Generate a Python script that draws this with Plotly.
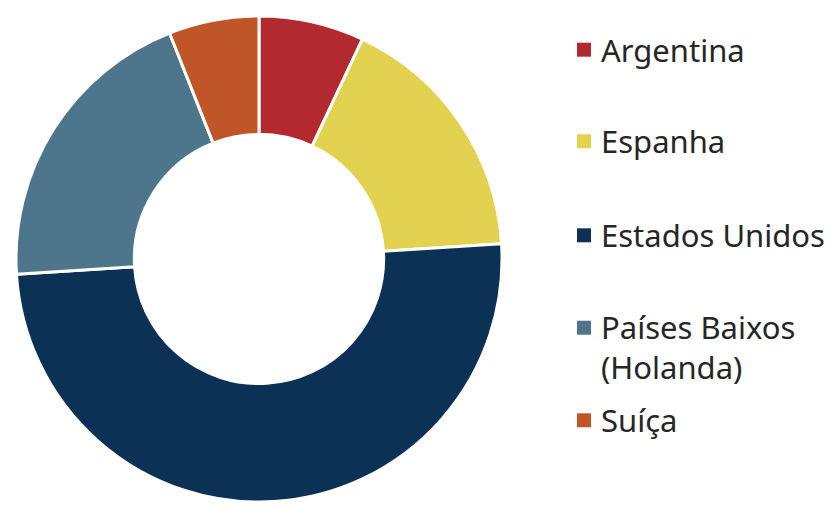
"""Donut chart: distribution by country."""

import plotly.graph_objects as go

# Data
countries = ["Argentina", "Espanha", "Estados Unidos", "Países Baixos (Holanda)", "Suíça"]
shares = [7, 17, 50, 20, 6]
colors = ["#B22A30", "#E2D250", "#0B3154", "#4D758C", "#C05627"]
legend_labels = ["Argentina", "Espanha", "Estados Unidos", "Países Baixos<br>(Holanda)", "Suíça"]

W, H = 836, 508
OFF = 8  # page body margin pushes the figure 8px right/down


def px_x(x):
    return (x - OFF) / W


def px_y(y):
    return 1 - (y - OFF) / H


fig = go.Figure()

fig.add_trace(
    go.Pie(
        labels=countries,
        values=shares,
        hole=0.513,
        sort=False,
        direction="clockwise",
        rotation=0,
        marker=dict(colors=colors, line=dict(color="white", width=3)),
        textinfo="none",
        showlegend=False,
        domain=dict(x=[px_x(16), px_x(502)], y=[px_y(502), px_y(16)]),
    )
)

# Manual legend so the spacing matches the original layout
legend_y = [49.7, 141.3, 235.3, 327.7, 420.3]  # marker centres in px
sq = 14
for label, color, yc in zip(legend_labels, colors, legend_y):
    fig.add_shape(
        type="rect",
        xref="paper",
        yref="paper",
        x0=px_x(577),
        x1=px_x(577 + sq),
        y0=px_y(yc + sq / 2),
        y1=px_y(yc - sq / 2),
        fillcolor=color,
        line=dict(width=0),
    )
    n_lines = label.count("<br>") + 1
    fig.add_annotation(
        text=label,
        xref="paper",
        yref="paper",
        x=px_x(599),
        y=px_y(yc + (n_lines - 1) * 19.5),
        xanchor="left",
        yanchor="middle",
        align="left",
        showarrow=False,
        font=dict(family="Noto Sans", size=31, color="#262626"),
    )

fig.update_layout(
    width=W,
    height=H,
    margin=dict(l=0, r=0, t=0, b=0),
    paper_bgcolor="white",
    plot_bgcolor="white",
    showlegend=False,
)

fig.write_html("out.html")
